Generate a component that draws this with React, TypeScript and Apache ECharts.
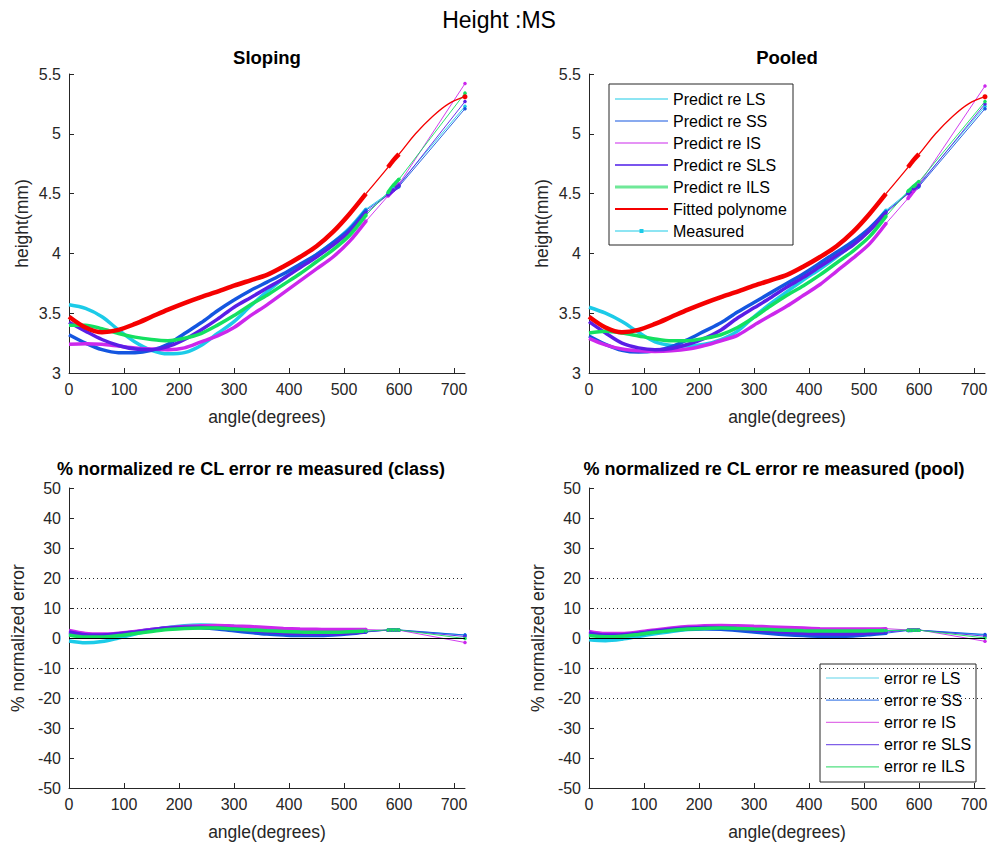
import React, { useEffect, useRef } from 'react';
import * as echarts from 'echarts';

// ---------- data ----------
const angles = [0, 30, 60, 90, 120, 150, 180, 210, 240, 270, 300, 330, 360, 390, 420, 450, 480, 510, 540];
const tailAngles = [580, 590, 600];
const fitExtraAngles = [630, 660, 690];
const endAngle = 720;
const xTicks = [0, 100, 200, 300, 400, 500, 600, 700];

// Sloping (class) predictions
const slopeLS = [3.57, 3.54, 3.47, 3.36, 3.26, 3.19, 3.16, 3.17, 3.23, 3.33, 3.43, 3.56, 3.68, 3.79, 3.89, 3.99, 4.09, 4.21, 4.37];
const slopeLSTail = [4.5, 4.54, 4.58];
const slopeLSEnd = 5.23;
const slopeSS = [3.32, 3.25, 3.195, 3.17, 3.17, 3.19, 3.24, 3.33, 3.42, 3.52, 3.61, 3.69, 3.76, 3.83, 3.91, 3.99, 4.09, 4.2, 4.36];
const slopeSSTail = [4.49, 4.53, 4.56];
const slopeSSEnd = 5.21;
const slopeIS = [3.24, 3.245, 3.24, 3.225, 3.21, 3.2, 3.195, 3.21, 3.26, 3.31, 3.38, 3.48, 3.57, 3.67, 3.77, 3.87, 3.97, 4.1, 4.27];
const slopeISTail = [4.48, 4.53, 4.58];
const slopeISEnd = 5.42;
const slopeSLS = [3.425, 3.35, 3.28, 3.23, 3.2, 3.195, 3.22, 3.28, 3.36, 3.45, 3.55, 3.63, 3.71, 3.79, 3.88, 3.97, 4.07, 4.18, 4.34];
const slopeSLSTail = [4.49, 4.53, 4.57];
const slopeSLSEnd = 5.27;
const slopeILS = [3.4, 3.4, 3.37, 3.33, 3.3, 3.28, 3.27, 3.29, 3.33, 3.4, 3.48, 3.57, 3.65, 3.74, 3.83, 3.93, 4.03, 4.15, 4.32];
const slopeILSTail = [4.51, 4.57, 4.62];
const slopeILSEnd = 5.34;

// Fitted polynome (same in both)
const fitVals = [3.47, 3.38, 3.34, 3.36, 3.41, 3.47, 3.53, 3.585, 3.635, 3.68, 3.73, 3.775, 3.82, 3.89, 3.97, 4.06, 4.18, 4.33, 4.5];
const fitTail = [4.72, 4.78, 4.83];
const fitExtra = [5.0, 5.14, 5.25];
const fitEnd = 5.31;

// Pooled predictions
const poolLS = [3.55, 3.5, 3.43, 3.34, 3.26, 3.23, 3.225, 3.24, 3.28, 3.35, 3.47, 3.58, 3.68, 3.78, 3.87, 3.97, 4.08, 4.2, 4.36];
const poolLSTail = [4.51, 4.55, 4.58];
const poolLSEnd = 5.23;
const poolSS = [3.31, 3.24, 3.19, 3.175, 3.185, 3.22, 3.28, 3.35, 3.42, 3.51, 3.59, 3.67, 3.75, 3.83, 3.92, 4.01, 4.1, 4.21, 4.35];
const poolSSTail = [4.5, 4.53, 4.56];
const poolSSEnd = 5.21;
const poolIS = [3.29, 3.235, 3.2, 3.185, 3.18, 3.185, 3.2, 3.23, 3.27, 3.315, 3.4, 3.48, 3.56, 3.65, 3.74, 3.85, 3.96, 4.08, 4.25];
const poolISTail = [4.46, 4.52, 4.58];
const poolISEnd = 5.4;
const poolSLS = [3.43, 3.335, 3.25, 3.21, 3.195, 3.205, 3.24, 3.29, 3.36, 3.46, 3.545, 3.63, 3.72, 3.8, 3.89, 3.98, 4.07, 4.19, 4.34];
const poolSLSTail = [4.5, 4.54, 4.57];
const poolSLSEnd = 5.25;
const poolILS = [3.335, 3.35, 3.335, 3.31, 3.285, 3.27, 3.27, 3.29, 3.32, 3.38, 3.465, 3.56, 3.65, 3.73, 3.82, 3.92, 4.02, 4.14, 4.31];
const poolILSTail = [4.52, 4.56, 4.6];
const poolILSEnd = 5.27;

// Errors (class)
const errClassLS = [-1.0, -1.6, -1.2, 0, 1.3, 2.6, 3.5, 4.1, 4.3, 4.1, 3.8, 3.4, 3.0, 2.6, 2.3, 2.1, 2.0, 2.0, 2.2];
const errClassLSTail = [2.6, 2.6, 2.6];
const errClassLSEnd = 1.0;
const errClassSS = [1.5, 0.8, 0.8, 1.2, 2.0, 2.8, 3.4, 3.6, 3.4, 3.0, 2.4, 1.8, 1.3, 1.0, 0.8, 0.8, 1.0, 1.4, 2.0];
const errClassSSTail = [2.7, 2.7, 2.7];
const errClassSSEnd = 1.0;
const errClassIS = [2.5, 1.5, 1.3, 1.6, 2.2, 2.8, 3.4, 3.8, 4.1, 4.2, 4.0, 3.8, 3.5, 3.2, 3.0, 2.9, 2.8, 2.8, 2.8];
const errClassISTail = [2.6, 2.6, 2.6];
const errClassISEnd = -1.5;
const errClassSLS = [2.0, 1.1, 1.0, 1.4, 2.0, 2.7, 3.3, 3.6, 3.6, 3.3, 3.0, 2.5, 2.1, 1.7, 1.5, 1.4, 1.4, 1.7, 2.1];
const errClassSLSTail = [2.6, 2.6, 2.6];
const errClassSLSEnd = 0.5;
const errClassILS = [1.0, 0.3, 0.3, 0.8, 1.5, 2.2, 2.8, 3.2, 3.3, 3.3, 3.0, 2.7, 2.4, 2.2, 2.0, 1.9, 1.9, 2.1, 2.3];
const errClassILSTail = [2.7, 2.7, 2.7];
const errClassILSEnd = -0.2;

// Errors (pool)
const errPoolLS = [-0.6, -0.9, -0.4, 0.5, 1.4, 2.2, 2.8, 3.1, 3.2, 3.0, 2.7, 2.4, 2.2, 2.0, 1.9, 1.9, 2.0, 2.2, 2.4];
const errPoolLSTail = [2.6, 2.6, 2.6];
const errPoolLSEnd = 1.0;
const errPoolSS = [1.2, 0.7, 0.8, 1.3, 2.0, 2.6, 3.0, 3.1, 2.9, 2.5, 2.0, 1.5, 1.1, 0.8, 0.6, 0.6, 0.7, 1.1, 1.6];
const errPoolSSTail = [2.5, 2.55, 2.6];
const errPoolSSEnd = 1.2;
const errPoolIS = [2.2, 1.5, 1.5, 2.0, 2.7, 3.3, 3.8, 4.1, 4.2, 4.1, 3.9, 3.7, 3.5, 3.3, 3.1, 3.0, 3.0, 3.0, 3.1];
const errPoolISTail = [2.7, 2.7, 2.7];
const errPoolISEnd = -1.1;
const errPoolSLS = [1.7, 1.0, 1.1, 1.6, 2.3, 2.9, 3.3, 3.5, 3.4, 3.1, 2.7, 2.3, 1.9, 1.6, 1.4, 1.35, 1.4, 1.7, 2.0];
const errPoolSLSTail = [2.6, 2.6, 2.6];
const errPoolSLSEnd = 0.6;
const errPoolILS = [0.8, 0.4, 0.6, 1.2, 1.9, 2.5, 3.0, 3.2, 3.3, 3.2, 3.0, 2.8, 2.6, 2.4, 2.3, 2.3, 2.3, 2.4, 2.5];
const errPoolILSTail = [2.6, 2.6, 2.6];
const errPoolILSEnd = 0.0;

const topLegendLabels = ['Predict re LS', 'Predict re SS', 'Predict re IS', 'Predict re SLS', 'Predict re ILS', 'Fitted polynome', 'Measured'];
const errLegendLabels = ['error re LS', 'error re SS', 'error re IS', 'error re SLS', 'error re ILS'];

// ---------- styles ----------
const C = {
  LS: '#1ccbe8',
  SS: '#1456e0',
  IS: '#cc28ec',
  SLS: '#5a1ee6',
  ILS: '#14e060',
  FIT: '#f50000',
};
const FONT = 'Liberation Sans, Arial, Helvetica, sans-serif';
const AX = '#262626';
const TICK_FS = 16;
const NAME_FS = 17.5;

const GRID_L = [69, 589];
const GRID_W = 396;

function pairs(xs: number[], ys: number[]) {
  return xs.map((x, i) => [x, ys[i]]);
}

function curve(
  name: string,
  color: string,
  gi: number,
  dense: number[],
  tail: number[],
  end: number,
  width: number,
  extra?: { xs: number[]; ys: number[] }
) {
  const base = { type: 'line', xAxisIndex: gi, yAxisIndex: gi, animation: false, silent: true };
  const main = {
    ...base,
    name,
    data: pairs(angles, dense),
    smooth: 0.3,
    symbol: 'none',
    lineStyle: { color, width },
    itemStyle: { color },
  };
  const short = {
    ...base,
    name: name + ' (b)',
    data: pairs(tailAngles, tail),
    smooth: 0.3,
    symbol: 'none',
    lineStyle: { color, width },
    itemStyle: { color },
  };
  const thinData: any[] = [[angles[angles.length - 1], dense[dense.length - 1]], ...pairs(tailAngles, tail)];
  if (extra) thinData.push(...pairs(extra.xs, extra.ys));
  thinData.push([endAngle, end]);
  const thin = {
    ...base,
    name: name + ' (t)',
    data: thinData,
    smooth: extra ? 0.4 : false,
    symbol: 'circle',
    symbolSize: extra ? (v: number[]) => (v[0] === endAngle ? 5 : 0) : 3.5,
    showSymbol: true,
    lineStyle: { color, width: extra ? 1.3 : 0.9 },
    itemStyle: { color },
  };
  return [main, short, thin];
}

function refLines() {
  const dotted = { type: [1, 3], color: AX, width: 1 };
  return {
    silent: true,
    symbol: 'none',
    label: { show: false },
    animation: false,
    data: [
      { yAxis: 20, lineStyle: dotted },
      { yAxis: 10, lineStyle: dotted },
      { yAxis: -10, lineStyle: dotted },
      { yAxis: -20, lineStyle: dotted },
      { yAxis: 0, lineStyle: { type: 'solid', color: '#000', width: 1 } },
    ],
  };
}

function xAxis(gi: number) {
  return {
    type: 'value',
    gridIndex: gi,
    min: 0,
    max: 720,
    interval: 100,
    name: 'angle(degrees)',
    nameLocation: 'middle',
    nameGap: 35,
    nameTextStyle: { fontSize: NAME_FS, color: AX, fontFamily: FONT },
    axisLine: { show: true, onZero: false, lineStyle: { color: AX, width: 1 } },
    axisTick: { show: true, inside: true, length: 5, customValues: xTicks, lineStyle: { color: AX } },
    axisLabel: {
      fontSize: TICK_FS,
      color: AX,
      fontFamily: FONT,
      margin: 8,
      customValues: xTicks,
      formatter: (v: number) => (v === 720 ? '' : String(v)),
    },
    splitLine: { show: false },
  };
}

function yAxisTop(gi: number) {
  return {
    type: 'value',
    gridIndex: gi,
    min: 3,
    max: 5.5,
    interval: 0.5,
    name: 'height(mm)',
    nameLocation: 'middle',
    nameGap: 38,
    nameTextStyle: { fontSize: NAME_FS, color: AX, fontFamily: FONT },
    axisLine: { show: true, onZero: false, lineStyle: { color: AX, width: 1 } },
    axisTick: { show: true, inside: true, length: 5, lineStyle: { color: AX } },
    axisLabel: { fontSize: TICK_FS, color: AX, fontFamily: FONT, margin: 8 },
    splitLine: { show: false },
  };
}

function yAxisBottom(gi: number) {
  return {
    type: 'value',
    gridIndex: gi,
    min: -50,
    max: 50,
    interval: 10,
    name: '% normalized error',
    nameLocation: 'middle',
    nameGap: 42,
    nameTextStyle: { fontSize: NAME_FS, color: AX, fontFamily: FONT },
    axisLine: { show: true, onZero: false, lineStyle: { color: AX, width: 1 } },
    axisTick: { show: true, inside: true, length: 5, lineStyle: { color: AX } },
    axisLabel: { fontSize: TICK_FS, color: AX, fontFamily: FONT, margin: 8 },
    splitLine: { show: false },
  };
}

function legendGraphic(
  x: number,
  y: number,
  w: number,
  h: number,
  firstY: number,
  pitch: number,
  labels: string[],
  colors: string[],
  widths: number[],
  markerIndex: number
) {
  const children: any[] = [
    { type: 'rect', shape: { x, y, width: w, height: h }, style: { fill: '#fff', stroke: AX, lineWidth: 1 } },
  ];
  labels.forEach((lab, i) => {
    const cy = firstY + pitch * i;
    children.push({
      type: 'line',
      shape: { x1: x + 6, y1: cy, x2: x + 59, y2: cy },
      style: { stroke: colors[i], lineWidth: widths[i] },
    });
    if (i === markerIndex) {
      children.push({
        type: 'rect',
        shape: { x: x + 30.5, y: cy - 2, width: 4, height: 4 },
        style: { fill: colors[i] },
      });
    }
    children.push({
      type: 'text',
      x: x + 64,
      y: cy,
      style: { text: lab, fill: '#000', font: `16px ${FONT}`, textAlign: 'left', textVerticalAlign: 'middle' },
    });
  });
  return { type: 'group', z: 100, children };
}

function title(text: string, x: number, y: number, size: number, bold: boolean) {
  return {
    type: 'text',
    x,
    y,
    z: 100,
    style: {
      text,
      fill: '#000',
      font: `${bold ? 'bold ' : ''}${size}px ${FONT}`,
      textAlign: 'center',
      textVerticalAlign: 'middle',
    },
  };
}

export default function App() {
  const ref = useRef<HTMLDivElement>(null);
  useEffect(() => {
    if (!ref.current) return;
    const chart = echarts.init(ref.current, null, { renderer: 'svg' });
    const W = 3.5;
    const WF = 4.5;

    const series: any[] = [
      ...curve('Predict re LS', C.LS, 0, slopeLS, slopeLSTail, slopeLSEnd, W),
      ...curve('Predict re SS', C.SS, 0, slopeSS, slopeSSTail, slopeSSEnd, W),
      ...curve('Predict re IS', C.IS, 0, slopeIS, slopeISTail, slopeISEnd, W),
      ...curve('Predict re SLS', C.SLS, 0, slopeSLS, slopeSLSTail, slopeSLSEnd, W),
      ...curve('Predict re ILS', C.ILS, 0, slopeILS, slopeILSTail, slopeILSEnd, W),
      ...curve('Fitted polynome', C.FIT, 0, fitVals, fitTail, fitEnd, WF, { xs: fitExtraAngles, ys: fitExtra }),
      ...curve('Predict re LS', C.LS, 1, poolLS, poolLSTail, poolLSEnd, W),
      ...curve('Predict re SS', C.SS, 1, poolSS, poolSSTail, poolSSEnd, W),
      ...curve('Predict re IS', C.IS, 1, poolIS, poolISTail, poolISEnd, W),
      ...curve('Predict re SLS', C.SLS, 1, poolSLS, poolSLSTail, poolSLSEnd, W),
      ...curve('Predict re ILS', C.ILS, 1, poolILS, poolILSTail, poolILSEnd, W),
      ...curve('Fitted polynome', C.FIT, 1, fitVals, fitTail, fitEnd, WF, { xs: fitExtraAngles, ys: fitExtra }),
    ];

    const errClass = [
      ...curve('error re LS', C.LS, 2, errClassLS, errClassLSTail, errClassLSEnd, W),
      ...curve('error re SS', C.SS, 2, errClassSS, errClassSSTail, errClassSSEnd, W),
      ...curve('error re IS', C.IS, 2, errClassIS, errClassISTail, errClassISEnd, W),
      ...curve('error re SLS', C.SLS, 2, errClassSLS, errClassSLSTail, errClassSLSEnd, W),
      ...curve('error re ILS', C.ILS, 2, errClassILS, errClassILSTail, errClassILSEnd, W),
    ];
    const errPool = [
      ...curve('error re LS', C.LS, 3, errPoolLS, errPoolLSTail, errPoolLSEnd, W),
      ...curve('error re SS', C.SS, 3, errPoolSS, errPoolSSTail, errPoolSSEnd, W),
      ...curve('error re IS', C.IS, 3, errPoolIS, errPoolISTail, errPoolISEnd, W),
      ...curve('error re SLS', C.SLS, 3, errPoolSLS, errPoolSLSTail, errPoolSLSEnd, W),
      ...curve('error re ILS', C.ILS, 3, errPoolILS, errPoolILSTail, errPoolILSEnd, W),
    ];
    const refClass = { type: 'line', xAxisIndex: 2, yAxisIndex: 2, data: [[0, 0]], symbol: 'none', lineStyle: { width: 0 }, markLine: refLines(), silent: true, z: 1 };
    const refPool = { type: 'line', xAxisIndex: 3, yAxisIndex: 3, data: [[0, 0]], symbol: 'none', lineStyle: { width: 0 }, markLine: refLines(), silent: true, z: 1 };

    const option: any = {
      animation: false,
      backgroundColor: '#fff',
      textStyle: { fontFamily: FONT },
      grid: [
        { left: GRID_L[0], top: 74, width: GRID_W, height: 299 },
        { left: GRID_L[1], top: 74, width: GRID_W, height: 299 },
        { left: GRID_L[0], top: 488, width: GRID_W, height: 300 },
        { left: GRID_L[1], top: 488, width: GRID_W, height: 300 },
      ],
      xAxis: [xAxis(0), xAxis(1), xAxis(2), xAxis(3)],
      yAxis: [yAxisTop(0), yAxisTop(1), yAxisBottom(2), yAxisBottom(3)],
      series: [refClass, refPool, ...series, ...errClass, ...errPool],
      graphic: [
        title('Height :MS', 499, 20, 23, false),
        title('Sloping', 267, 57, 18.5, true),
        title('Pooled', 787, 57, 18.5, true),
        title('% normalized re CL error re measured (class)', 251, 469, 18, true),
        title('% normalized re CL error re measured (pool)', 774, 469, 18, true),
        legendGraphic(
          609, 84, 184, 161, 99, 22,
          topLegendLabels,
          [C.LS, C.SS, C.IS, '#7a55ee', '#6fe898', C.FIT, C.LS],
          [1.2, 1.2, 1.2, 2, 3, 2.2, 1.2],
          6
        ),
        legendGraphic(
          820, 664, 156, 118, 678, 22.2,
          errLegendLabels,
          ['#5fd3ea', '#4f86e8', '#e070e8', '#8060e8', '#50e080'],
          [1.2, 1.2, 1.2, 1.2, 1.2],
          -1
        ),
      ],
    };
    chart.setOption(option);
    return () => chart.dispose();
  }, []);
  return (
    <div
      ref={ref}
      style={{ position: 'fixed', left: 0, top: 0, width: 998, height: 844, background: '#fff' }}
    />
  );
}
